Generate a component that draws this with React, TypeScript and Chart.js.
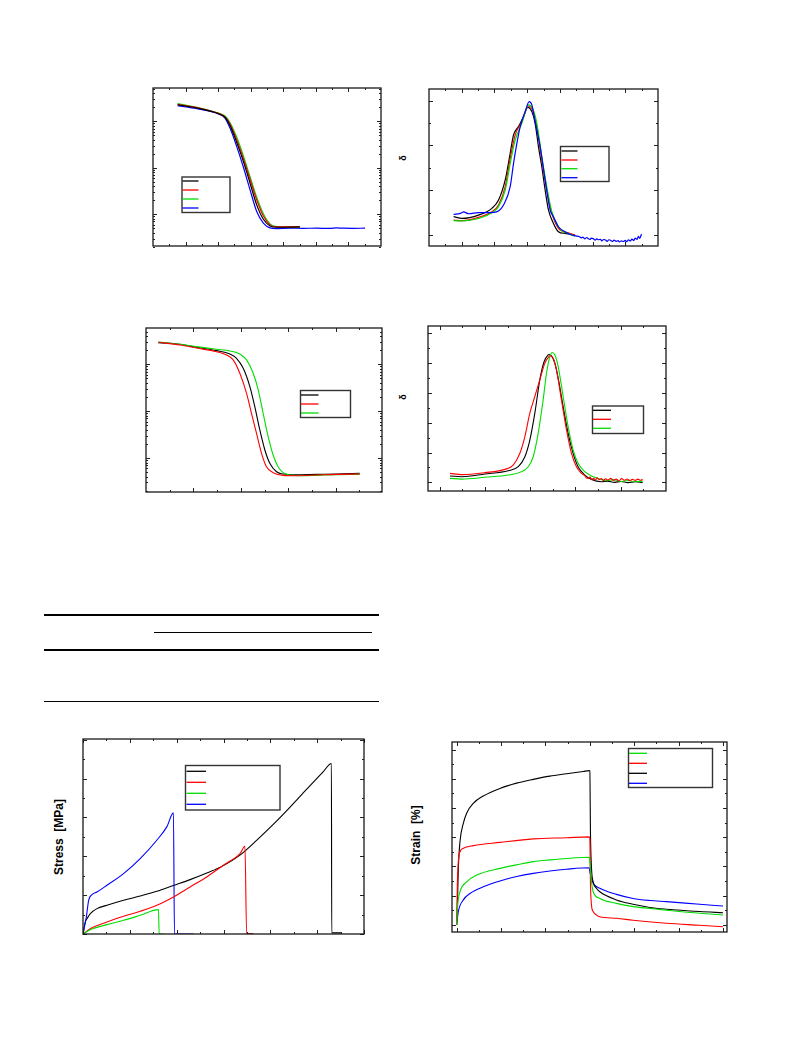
import React, { useEffect, useRef } from "react";
import { Chart, registerables } from "chart.js";

Chart.register(...registerables);

type Pt = [number, number];

// ---------- Panel A: storage modulus (MPa, log) vs temperature ----------
const modA_black: Pt[] = [[-112.2, 2280], [-82.7, 1936], [-49.5, 1462], [-39.3, 1219], [-31.6, 807], [-21.4, 348], [-11.2, 136], [-1.0, 46.5], [9.2, 15.9], [19.4, 7.8], [29.6, 5.6], [39.8, 5.25], [75.5, 5.34]];
const modA_red: Pt[] = [[-112.2, 2320], [-82.7, 1968], [-49.5, 1486], [-39.3, 1240], [-31.6, 861], [-21.4, 397], [-11.2, 157], [-1.0, 56.6], [9.2, 20.3], [19.4, 9.2], [29.6, 5.9], [39.8, 5.34], [75.5, 5.34]];
const modA_green: Pt[] = [[-112.2, 2399], [-82.7, 2000], [-49.5, 1511], [-39.3, 1303], [-31.6, 936], [-21.4, 453], [-11.2, 180], [-1.0, 64.6], [9.2, 23.2], [19.4, 10.2], [29.6, 6.2], [39.8, 5.43], [75.5, 5.25]];
const modA_blue: Pt[] = [[-112.2, 2173], [-82.7, 1871], [-49.5, 1439], [-39.3, 1161], [-31.6, 707], [-21.4, 285], [-11.2, 102.5], [-1.0, 33.4], [9.2, 11.4], [19.4, 6.4], [29.6, 5.08], [39.8, 4.92], [60.2, 5.0], [80.6, 4.97], [101, 5.0], [121.4, 4.96], [131.6, 5.08], [141.8, 5.0], [157.1, 4.98], [175.5, 5.0]];

// ---------- Panel B: tan delta vs temperature ----------
const tanB_black: Pt[] = [[-112.4, 0.282], [-99.6, 0.274], [-74.2, 0.289], [-53.9, 0.319], [-43.7, 0.356], [-33.5, 0.446], [-25.9, 0.565], [-20.8, 0.647], [-13.2, 0.684], [-5.6, 0.729], [1.0, 0.770], [7.2, 0.751], [12.2, 0.699], [17.3, 0.595], [22.4, 0.505], [27.5, 0.401], [32.6, 0.312], [40.2, 0.252], [47.8, 0.215], [58.0, 0.207], [66, 0.204], [73.3, 0.200]];
const tanB_red: Pt[] = [[-112.4, 0.267], [-99.6, 0.264], [-74.2, 0.279], [-53.9, 0.304], [-43.7, 0.334], [-33.5, 0.416], [-25.9, 0.542], [-18.3, 0.647], [-8.1, 0.706], [2.1, 0.776], [8.2, 0.758], [14.8, 0.684], [22.4, 0.535], [30.0, 0.401], [37.7, 0.297], [47.8, 0.230], [55, 0.215], [63.1, 0.210], [68, 0.204], [73.3, 0.200]];
const tanB_green: Pt[] = [[-112.4, 0.264], [-99.6, 0.263], [-74.2, 0.274], [-53.9, 0.300], [-43.7, 0.327], [-33.5, 0.401], [-25.9, 0.520], [-18.3, 0.624], [-8.1, 0.699], [2.1, 0.781], [8.2, 0.766], [14.8, 0.699], [22.4, 0.550], [30.0, 0.416], [37.7, 0.304], [47.8, 0.237], [55, 0.216], [63.1, 0.207], [68, 0.200], [73.3, 0.196]];
const tanB_blue: Pt[] = [[-112.4, 0.292], [-102.1, 0.297], [-97.0, 0.303], [-89.4, 0.295], [-74.2, 0.300], [-53.9, 0.300], [-43.7, 0.307], [-36.1, 0.334], [-25.9, 0.416], [-20.8, 0.520], [-15.7, 0.609], [-10.6, 0.684], [-3.0, 0.751], [3.1, 0.796], [7.2, 0.781], [12.2, 0.706], [19.9, 0.595], [27.5, 0.446], [35.1, 0.312], [40.2, 0.282], [47.8, 0.237], [58.0, 0.215], [68.2, 0.200], [74, 0.196], [80, 0.192], [83, 0.187], [85, 0.191], [88, 0.183], [91, 0.189], [93, 0.185], [96, 0.18], [98, 0.186], [101, 0.184], [104, 0.177], [106, 0.183], [109, 0.179], [112, 0.181], [114, 0.174], [117, 0.18], [120, 0.178], [122, 0.172], [125, 0.179], [128, 0.176], [130, 0.171], [133, 0.177], [136, 0.172], [139, 0.175], [141, 0.169], [144, 0.174], [147, 0.171], [150, 0.176], [152, 0.17], [155, 0.178], [158, 0.174], [160, 0.182], [163, 0.176], [165, 0.186], [168, 0.181], [170, 0.194], [172, 0.185], [174, 0.198], [175, 0.204]];

// ---------- Panel C: storage modulus (MPa, log) vs temperature ----------
const modC_black: Pt[] = [[-87.0, 2900], [-64.2, 2670], [-46.7, 2310], [-25.6, 1960], [-11.6, 1660], [-4.6, 1340], [2.5, 822], [9.5, 334], [14.7, 125], [20.0, 39.6], [25.3, 14.8], [30.5, 7.7], [37.6, 5.1], [44.6, 4.55], [58.6, 4.40], [79.7, 4.48], [100.7, 4.55], [125.3, 4.71]];
const modC_red: Pt[] = [[-87.0, 2950], [-64.2, 2590], [-46.7, 2230], [-25.6, 1860], [-15.1, 1580], [-8.1, 1240], [-1.1, 643], [6.0, 240], [11.2, 90], [16.5, 33.6], [21.8, 12.6], [27.0, 6.5], [34.0, 4.86], [44.6, 4.26], [58.6, 4.19], [79.7, 4.33], [100.7, 4.48], [125.3, 4.55]];
const modC_green: Pt[] = [[-87.0, 3000], [-64.2, 2670], [-46.7, 2380], [-25.6, 2090], [-11.6, 1930], [-1.1, 1660], [6.0, 1240], [13.0, 643], [18.3, 283], [23.5, 90], [28.8, 28.5], [34.0, 11.6], [39.3, 6.5], [44.6, 4.86], [51.6, 4.33], [65.6, 4.19], [79.7, 4.26], [100.7, 4.40], [125.3, 4.48]];

// ---------- Panel D: tan delta vs temperature ----------
const tanD_black: Pt[] = [[-88.6, 0.043], [-75.7, 0.038], [-50.0, 0.056], [-24.3, 0.078], [-13.2, 0.105], [-5.9, 0.172], [-0.4, 0.284], [5.1, 0.464], [10.6, 0.688], [15.4, 0.811], [19.8, 0.856], [20.6, 0.858], [23.5, 0.849], [27.2, 0.800], [30.9, 0.699], [36.4, 0.508], [41.9, 0.329], [47.4, 0.195], [52.9, 0.105], [60.3, 0.049], [67.6, 0.020], [78.6, 0.004], [85, 0.008], [93.4, 0], [100, 0.006], [108.1, -0.002], [116, 0.004], [124.2, -0.002]];
const tanD_red: Pt[] = [[-88.6, 0.060], [-75.7, 0.052], [-50.0, 0.065], [-27.9, 0.087], [-18.8, 0.116], [-11.4, 0.195], [-5.9, 0.307], [-0.4, 0.464], [5.1, 0.576], [10.6, 0.688], [16.2, 0.800], [20.6, 0.844], [21.7, 0.849], [25.4, 0.833], [29.0, 0.755], [34.5, 0.553], [40.1, 0.352], [45.6, 0.195], [51.1, 0.105], [56.6, 0.060], [60.3, 0.045], [62, 0.03], [64, 0.027], [66, 0.035], [68, 0.02], [70, 0.028], [72, 0.015], [74, 0.03], [76, 0.018], [78.6, 0.025], [81, 0.012], [83, 0.024], [86, 0.015], [89, 0.027], [92, 0.013], [95, 0.022], [98, 0.01], [101, 0.025], [104, 0.014], [107, 0.023], [110, 0.012], [113, 0.02], [116, 0.013], [119, 0.022], [122, 0.014], [124.2, 0.02]];
const tanD_green: Pt[] = [[-88.6, 0.027], [-75.7, 0.022], [-50.0, 0.034], [-24.3, 0.049], [-9.6, 0.072], [-2.2, 0.105], [3.3, 0.172], [8.8, 0.329], [14.3, 0.553], [18.0, 0.732], [21.7, 0.844], [24.2, 0.871], [27.2, 0.856], [30.9, 0.777], [36.4, 0.576], [41.9, 0.374], [47.4, 0.217], [52.9, 0.128], [60.3, 0.072], [67.6, 0.043], [78.6, 0.020], [85, 0.012], [92, 0.018], [100.7, 0.006], [108, 0.012], [116, 0.004], [124.2, 0.008]];

// ---------- Panel E: stress (MPa) vs strain (%) ----------
const stress_black: Pt[] = [[0, 0], [5, 3.2], [8.5, 3.95], [15.6, 5.24], [29.8, 6.53], [51.1, 7.39], [86.6, 8.68], [122.1, 9.79], [157.6, 11.0], [193.1, 12.5], [228.7, 14.0], [264.2, 15.7], [299.7, 17.6], [335.2, 20.3], [370.7, 24.1], [406.2, 28.2], [441.7, 32.6], [477.2, 37.2], [512.7, 41.75], [530.4, 43.9], [531.1, 0.3], [552, 0.3]];
const stress_red: Pt[] = [[0, 0], [15.6, 1.37], [51.1, 3.09], [86.6, 4.55], [122.1, 5.84], [157.6, 7.39], [193.1, 9.54], [228.7, 12.11], [264.2, 14.69], [299.7, 17.70], [335.2, 20.70], [345.8, 22.59], [349.4, 0.1], [363.6, 0.1]];
const stress_green: Pt[] = [[0, 0], [15.6, 1.12], [51.1, 2.41], [86.6, 3.52], [122.1, 4.81], [161.2, 6.27], [162.6, 0], [171.8, 0]];
const stress_blue: Pt[] = [[0, 0], [7.1, 4.38], [12.1, 8.68], [19.2, 10.14], [29.8, 10.82], [51.1, 12.54], [86.6, 15.55], [122.1, 19.42], [157.6, 24.14], [178.9, 27.58], [193.1, 31.19], [195.3, 0], [235.8, 0]];

// ---------- Panel F: creep strain (%) vs time ----------
const creep_green: Pt[] = [[0, 0], [0.45, 0.67], [1.5, 1.13], [4.5, 1.47], [9, 1.70], [19.5, 1.93], [27, 2.05], [34.5, 2.16], [42, 2.22], [49.5, 2.27], [59.7, 2.31], [60, 2.16], [60.75, 1.47], [61.5, 1.13], [64.5, 0.90], [72, 0.73], [79.5, 0.62], [87, 0.56], [94.5, 0.50], [109.5, 0.39], [120, 0.33]];
const creep_red: Pt[] = [[0, 0], [0.3, 1.36], [0.75, 2.16], [1.5, 2.50], [3, 2.62], [7.5, 2.71], [19.5, 2.82], [34.5, 2.94], [49.5, 2.98], [59.7, 3.01], [60, 2.96], [60.3, 1.36], [60.75, 0.67], [61.5, 0.45], [63, 0.33], [64.5, 0.27], [72, 0.22], [79.5, 0.15], [94.5, 0.05], [109.5, -0.02], [120, -0.07]];
const creep_black: Pt[] = [[0, 0], [0.3, 0.56], [0.75, 1.93], [1.5, 2.85], [3, 3.47], [4.5, 3.82], [7.5, 4.16], [12, 4.41], [19.5, 4.67], [27, 4.85], [34.5, 4.98], [42, 5.09], [49.5, 5.17], [57, 5.25], [59.7, 5.28], [60, 5.27], [60.3, 3.07], [60.75, 1.93], [61.5, 1.47], [63, 1.25], [64.5, 1.13], [72, 0.85], [79.5, 0.70], [87, 0.59], [94.5, 0.53], [109.5, 0.45], [120, 0.41]];
const creep_blue: Pt[] = [[0, 0], [0.75, 0.45], [3, 0.85], [6, 1.07], [12, 1.30], [19.5, 1.50], [27, 1.65], [34.5, 1.76], [42, 1.84], [49.5, 1.90], [59.7, 1.95], [60, 1.82], [60.75, 1.59], [61.5, 1.42], [64.5, 1.25], [72, 1.04], [79.5, 0.90], [87, 0.83], [94.5, 0.79], [109.5, 0.70], [120, 0.64]];

// ---------- tick values ----------
const tempTicksAB = [-125, -100, -75, -50, -25, 0, 25, 50, 75, 100, 125, 150, 175];
const tempTicksC = [-75, -50, -25, 0, 25, 50, 75, 100, 125];
const tempTicksD = [-100, -75, -50, -25, 0, 25, 50, 75, 100, 125];
const logTicks = [2, 3, 4, 5, 6, 7, 8, 9, 10, 20, 30, 40, 50, 60, 70, 80, 90, 100, 200, 300, 400, 500, 600, 700, 800, 900, 1000, 2000, 3000, 4000, 5000];
const logMajor = [10, 100, 1000];
const tanTicksB = [0.2, 0.3, 0.4, 0.5, 0.6, 0.7, 0.8];
const tanTicksD = [0, 0.1, 0.2, 0.3, 0.4, 0.5, 0.6, 0.7, 0.8, 0.9, 1.0];
const strainTicksE = [0, 50, 100, 150, 200, 250, 300, 350, 400, 450, 500, 550, 600];
const stressTicksE = [0, 5, 10, 15, 20, 25, 30, 35, 40, 45, 50];
const timeTicksF = [0, 10, 20, 30, 40, 50, 60, 70, 80, 90, 100, 110, 120];
const creepTicksF = [0, 0.5, 1, 1.5, 2, 2.5, 3, 3.5, 4, 4.5, 5, 5.5, 6];

const BLACK = "#000000";
const RED = "#ff0000";
const GREEN = "#00dd00";
const BLUE = "#0000ff";

type Legend = { x0: number; y0: number; x1: number; y1: number; lx0: number; lx1: number; rows: number[]; colors: string[] };
type Spec = {
  left: number; top: number; width: number; height: number;
  xMin: number; xMax: number; yMin: number; yMax: number; yLog?: boolean;
  xTicks: number[]; isXMajor: (v: number) => boolean;
  yTicks: number[]; isYMajor: (v: number) => boolean;
  series: { data: Pt[]; color: string }[];
  legend: Legend;
  lw?: number;
};

const PAD = 6;
const near = (v: number, step: number) => Math.abs(v / step - Math.round(v / step)) < 1e-6;

function Plot({ spec }: { spec: Spec }) {
  const ref = useRef<HTMLCanvasElement>(null);
  useEffect(() => {
    const cv = ref.current!;
    const ox = spec.left - PAD;
    const oy = spec.top - PAD;
    const framePlugin = {
      id: "frame",
      afterDatasetsDraw(chart: any) {
        const ctx = chart.ctx;
        const a = chart.chartArea;
        const xs = chart.scales.x;
        const ys = chart.scales.y;
        ctx.save();
        ctx.strokeStyle = "#222";
        ctx.lineWidth = 1;
        ctx.beginPath();
        for (const v of spec.xTicks) {
          const p = Math.round(xs.getPixelForValue(v)) + 0.5;
          const L = spec.isXMajor(v) ? 4 : 2;
          ctx.moveTo(p, a.bottom); ctx.lineTo(p, a.bottom - L);
          ctx.moveTo(p, a.top); ctx.lineTo(p, a.top + L);
        }
        for (const v of spec.yTicks) {
          const p = Math.round(ys.getPixelForValue(v)) + 0.5;
          const L = spec.isYMajor(v) ? 4 : 2;
          ctx.moveTo(a.left, p); ctx.lineTo(a.left + L, p);
          ctx.moveTo(a.right, p); ctx.lineTo(a.right - L, p);
        }
        ctx.stroke();
        ctx.lineWidth = 1.3;
        ctx.strokeStyle = "#1a1a1a";
        ctx.strokeRect(a.left, a.top, a.right - a.left, a.bottom - a.top);
        // legend
        const lg = spec.legend;
        ctx.fillStyle = "#fff";
        ctx.fillRect(lg.x0 - ox, lg.y0 - oy, lg.x1 - lg.x0, lg.y1 - lg.y0);
        ctx.lineWidth = 1.4;
        ctx.strokeStyle = "#333";
        ctx.strokeRect(lg.x0 - ox, lg.y0 - oy, lg.x1 - lg.x0, lg.y1 - lg.y0);
        lg.rows.forEach((ry, i) => {
          ctx.beginPath();
          ctx.strokeStyle = lg.colors[i];
          ctx.lineWidth = 1.3;
          ctx.moveTo(lg.lx0 - ox, ry - oy);
          ctx.lineTo(lg.lx1 - ox, ry - oy);
          ctx.stroke();
        });
        ctx.restore();
      },
    };
    const chart = new Chart(cv, {
      type: "line",
      data: {
        datasets: spec.series.map((s) => ({
          data: s.data.map(([x, y]) => ({ x, y })),
          borderColor: s.color,
          borderWidth: spec.lw ?? 1.1,
          pointRadius: 0,
          fill: false,
          cubicInterpolationMode: "monotone" as const,
        })),
      },
      options: {
        animation: false,
        responsive: false,
        maintainAspectRatio: false,
        layout: { padding: PAD },
        plugins: { legend: { display: false }, tooltip: { enabled: false } },
        scales: {
          x: { type: "linear", display: false, min: spec.xMin, max: spec.xMax },
          y: { type: spec.yLog ? "logarithmic" : "linear", display: false, min: spec.yMin, max: spec.yMax },
        },
      } as any,
      plugins: [framePlugin],
    });
    return () => chart.destroy();
  }, [spec]);
  const w = spec.width + 2 * PAD;
  const h = spec.height + 2 * PAD;
  return (
    <canvas
      ref={ref}
      width={w}
      height={h}
      style={{ position: "absolute", left: spec.left - PAD, top: spec.top - PAD, width: w, height: h }}
    />
  );
}

const isLogMajor = (v: number) => logMajor.includes(v);

const specA: Spec = {
  left: 153, top: 88, width: 228, height: 158,
  xMin: -150, xMax: 200, yMin: 2.07, yMax: 5224, yLog: true,
  xTicks: tempTicksAB, isXMajor: (v) => near(v, 50),
  yTicks: logTicks, isYMajor: isLogMajor,
  series: [{ data: modA_black, color: BLACK }, { data: modA_red, color: RED }, { data: modA_green, color: GREEN }, { data: modA_blue, color: BLUE }],
  legend: { x0: 182, y0: 177, x1: 230, y1: 212.5, lx0: 182.5, lx1: 198.5, rows: [181, 190, 199, 208], colors: [BLACK, RED, GREEN, BLUE] },
  lw: 1.2,
};
const specB: Spec = {
  left: 429, top: 89, width: 229, height: 157,
  xMin: -150, xMax: 200, yMin: 0.151, yMax: 0.852,
  xTicks: tempTicksAB, isXMajor: (v) => near(v, 50),
  yTicks: tanTicksB, isYMajor: (v) => near(v, 0.2),
  series: [{ data: tanB_blue, color: BLUE }, { data: tanB_green, color: GREEN }, { data: tanB_red, color: RED }, { data: tanB_black, color: BLACK }],
  legend: { x0: 560.5, y0: 146.5, x1: 609, y1: 181.5, lx0: 561.5, lx1: 577.5, rows: [151, 160, 168.7, 177.7], colors: [BLACK, RED, GREEN, BLUE] },
  lw: 1.2,
};
const specC: Spec = {
  left: 146, top: 328, width: 236, height: 164,
  xMin: -100, xMax: 148.8, yMin: 1.88, yMax: 5957, yLog: true,
  xTicks: tempTicksC, isXMajor: (v) => near(v, 50),
  yTicks: logTicks, isYMajor: isLogMajor,
  series: [{ data: modC_red, color: RED }, { data: modC_green, color: GREEN }, { data: modC_black, color: BLACK }],
  legend: { x0: 300.5, y0: 390.5, x1: 350.5, y1: 417.5, lx0: 301, lx1: 318.5, rows: [395, 404, 413], colors: [BLACK, RED, GREEN] },
};
const specD: Spec = {
  left: 428, top: 326, width: 238, height: 165,
  xMin: -112.9, xMax: 150, yMin: -0.058, yMax: 1.049,
  xTicks: tempTicksD, isXMajor: (v) => near(v, 50),
  yTicks: tanTicksD, isYMajor: (v) => near(v, 0.2),
  series: [{ data: tanD_red, color: RED }, { data: tanD_green, color: GREEN }, { data: tanD_black, color: BLACK }],
  legend: { x0: 592.5, y0: 406, x1: 643.5, y1: 433.5, lx0: 593, lx1: 611, rows: [410.3, 419.3, 428.3], colors: [BLACK, RED, GREEN] },
};
const specE: Spec = {
  left: 83, top: 739, width: 281, height: 195,
  xMin: 0, xMax: 600, yMin: 0, yMax: 50.2,
  xTicks: strainTicksE, isXMajor: (v) => near(v, 100),
  yTicks: stressTicksE, isYMajor: (v) => near(v, 10),
  series: [{ data: stress_green, color: GREEN }, { data: stress_red, color: RED }, { data: stress_blue, color: BLUE }, { data: stress_black, color: BLACK }],
  legend: { x0: 185.5, y0: 765.5, x1: 280, y1: 810, lx0: 186.5, lx1: 206, rows: [771.3, 782.3, 793.3, 804.3], colors: [BLACK, RED, GREEN, BLUE] },
};
const specF: Spec = {
  left: 452, top: 742, width: 275, height: 190,
  xMin: -2.1, xMax: 121.8, yMin: -0.25, yMax: 6.26,
  xTicks: timeTicksF, isXMajor: (v) => near(v, 20),
  yTicks: creepTicksF, isYMajor: (v) => near(v, 1),
  series: [{ data: creep_green, color: GREEN }, { data: creep_red, color: RED }, { data: creep_black, color: BLACK }, { data: creep_blue, color: BLUE }],
  legend: { x0: 628.5, y0: 748.5, x1: 712.5, y1: 787.5, lx0: 629, lx1: 647, rows: [753.3, 763.3, 773.3, 783.3], colors: [GREEN, RED, BLACK, BLUE] },
};

const rotLabel = (cx: number, cy: number, size: number): React.CSSProperties => ({
  position: "absolute",
  left: cx,
  top: cy,
  transform: "translate(-50%, -50%) rotate(-90deg)",
  fontFamily: '"Liberation Sans", Arial, sans-serif',
  fontWeight: "bold",
  fontSize: size,
  whiteSpace: "pre",
  lineHeight: 1,
  color: "#000",
});

const hline = (left: number, top: number, width: number, h: number): React.CSSProperties => ({
  position: "absolute", left, top, width, height: h, background: "#000",
});

export default function App() {
  return (
    <div style={{ position: "absolute", left: 0, top: 0, width: 793, height: 1057, background: "#fff", overflow: "hidden" }}>
      <Plot spec={specA} />
      <Plot spec={specB} />
      <Plot spec={specC} />
      <Plot spec={specD} />
      <Plot spec={specE} />
      <Plot spec={specF} />
      <div style={rotLabel(403, 157.5, 9)}>δ</div>
      <div style={rotLabel(402.5, 396.5, 9)}>δ</div>
      <div style={rotLabel(58.5, 836.5, 12)}>{"Stress  [MPa]"}</div>
      <div style={rotLabel(416, 835, 12)}>{"Strain  [%]"}</div>
      <div style={hline(44, 614, 335, 2)} />
      <div style={hline(154, 631.5, 218, 1.3)} />
      <div style={hline(44, 649, 335, 2)} />
      <div style={hline(44, 700.5, 335, 1.5)} />
    </div>
  );
}
